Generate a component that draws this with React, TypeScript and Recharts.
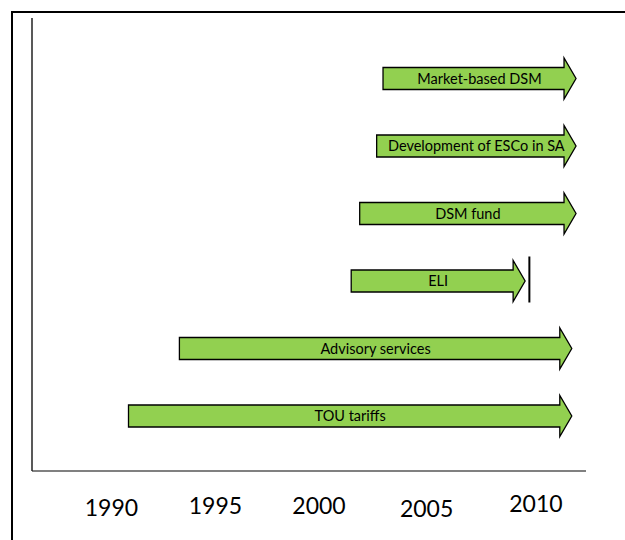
import { BarChart, Bar, XAxis, YAxis } from "recharts";

// programmes, top to bottom
const programmes = [
  "Market-based DSM",
  "Development of ESCo in SA",
  "DSM fund",
  "ELI",
  "Advisory services",
  "TOU tariffs",
];
const startYears = [2002.9, 2002.6, 2001.8, 2001.4, 1993.3, 1990.9];
const endYears = [2012.0, 2012.0, 2012.0, 2009.6, 2011.8, 2011.8];
// ELI stopped, marked with a bar just after the arrow tip
const stopYears = [null, null, null, 2009.8, null, null];

const yearTicks = [1990, 1995, 2000, 2005, 2010];

const chartData = programmes.map((name, i) => ({
  name,
  span: [startYears[i], endYears[i]],
  start: startYears[i],
  end: endYears[i],
  stop: stopYears[i],
}));

const FONT = "Lato, 'Open Sans', sans-serif";
const GREEN = "#92D050";

// the year labels in the original sit a little off the grid
const tickNudge: Record<number, [number, number]> = {
  1990: [2, 2],
  1995: [0, -0.5],
  2000: [-2.5, -0.5],
  2005: [-1, 2.5],
  2010: [2.3, -2],
};

function ArrowShape(props: any) {
  const { x, y, width, height, payload } = props;
  if (width == null || height == null) return null;
  const head = 12;
  const body = 22;
  const cy = y + height / 2;
  const left = x;
  const tip = x + width;
  const base = tip - head;
  const pts = [
    [left, cy - body / 2],
    [base, cy - body / 2],
    [base, y],
    [tip, cy],
    [base, y + height],
    [base, cy + body / 2],
    [left, cy + body / 2],
  ]
    .map((p) => p.join(","))
    .join(" ");
  let stopLine = null;
  if (payload.stop != null) {
    const perYear = width / (payload.end - payload.start);
    const sx = x + (payload.stop - payload.start) * perYear;
    stopLine = <line x1={sx} x2={sx} y1={y - 4} y2={y + height + 1} stroke="#000" strokeWidth={2} />;
  }
  return (
    <g>
      <polygon points={pts} fill={GREEN} stroke="#000" strokeWidth={1.3} strokeLinejoin="miter" />
      <text
        x={(left + tip) / 2}
        y={cy}
        dy="0.35em"
        textAnchor="middle"
        fontFamily={FONT}
        fontSize={14.5}
        fill="#000"
      >
        {payload.name}
      </text>
      {stopLine}
    </g>
  );
}

function YearTick(props: any) {
  const { x, y, payload } = props;
  const [nx, ny] = tickNudge[payload.value] ?? [0, 0];
  return (
    <text
      x={x + nx}
      y={y + 35 + ny}
      textAnchor="middle"
      fontFamily={FONT}
      fontSize={23}
      fill="#000"
    >
      {payload.value}
    </text>
  );
}

export default function App() {
  return (
    <div style={{ position: "absolute", left: 0, top: 0, width: 625, height: 540, background: "#fff", overflow: "hidden" }}>
      <div
        style={{
          position: "absolute",
          left: 11,
          top: 11,
          width: 614,
          height: 529,
          borderTop: "2px solid #000",
          borderLeft: "2px solid #000",
          boxSizing: "border-box",
        }}
      />
      <div style={{ position: "absolute", left: 0, top: 0 }}>
        <BarChart
          width={625}
          height={540}
          data={chartData}
          layout="vertical"
          margin={{ top: 18, right: 39, left: 31, bottom: 0 }}
          barSize={41}
        >
          <XAxis
            type="number"
            domain={[1986.35, 2012.47]}
            ticks={yearTicks}
            allowDataOverflow
            height={69}
            tickLine={false}
            axisLine={{ stroke: "#808080", strokeWidth: 2 }}
            tick={<YearTick />}
            interval={0}
          />
          <YAxis
            type="category"
            dataKey="name"
            width={1}
            tick={false}
            tickLine={false}
            axisLine={{ stroke: "#222", strokeWidth: 1.5 }}
            padding={{ top: 27, bottom: 21 }}
          />
          <Bar dataKey="span" shape={<ArrowShape />} isAnimationActive={false} />
        </BarChart>
      </div>
    </div>
  );
}
